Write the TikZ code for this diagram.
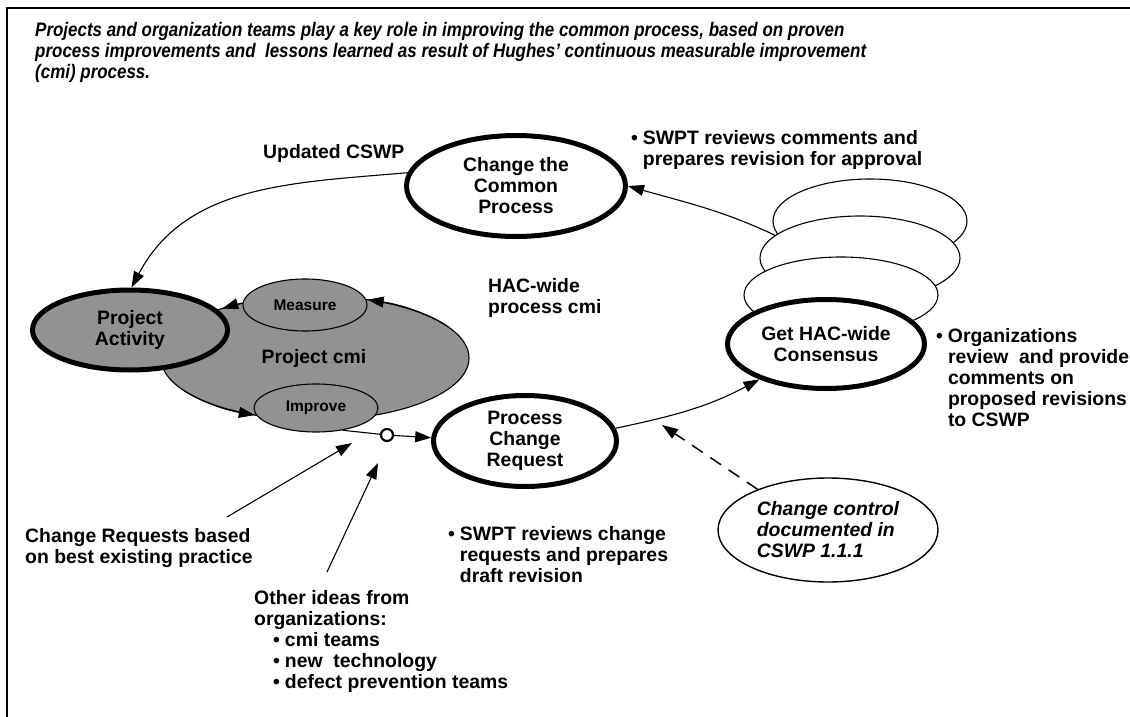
\documentclass[tikz,border=0pt]{standalone}
\usepackage{fontspec}
\setmainfont{Liberation Sans}
\newfontfamily\titlefont[FakeStretch=0.865]{Liberation Sans}
\usetikzlibrary{arrows.meta,shapes.geometric,calc}
\definecolor{fillgray}{RGB}{146,146,146}
\newcommand\bodyfont{\bfseries\fontsize{19.4}{21}\selectfont}
\newcommand\smallbody{\bfseries\fontsize{15.5}{18}\selectfont}
\tikzset{
  bigell/.style={ellipse, draw, line width=5pt, inner sep=0pt, align=center, font=\bodyfont},
  thinell/.style={ellipse, draw, line width=1.1pt, fill=white, inner sep=0pt},
  grayell/.style={ellipse, draw, line width=1.1pt, fill=fillgray, inner sep=0pt, font=\smallbody},
  conn/.style={line width=1.1pt, -{Triangle[length=16pt,width=11pt]}},
  txt/.style={inner sep=0pt, align=left, font=\bodyfont},
}
\begin{document}
\begin{tikzpicture}[x=1pt,y=-1pt]
\useasboundingbox (0,0) rectangle (1130,717);
% frame
\draw[line width=2pt] (7,717) -- (7,8) -- (1130,8);
% title
\node[inner sep=0pt, anchor=north west, align=left, font=\titlefont\bfseries\itshape\fontsize{19.6}{21}\selectfont] (title) at (35,22)
 {Projects and organization teams play a key role in improving the common process, based on proven\\
  process improvements and\ \ lessons learned as result of Hughes’ continuous measurable improvement\\
  (cmi) process.};

% project cmi loop
\node[ellipse, draw, line width=1.1pt, fill=fillgray, inner sep=0pt, minimum width=308pt, minimum height=124pt] (big) at (315,358) {};
\node[bigell, fill=fillgray, minimum width=195pt, minimum height=80pt] (pa) at (130,330) {Project\\Activity};
\draw[conn] ($(big.center)+({154*cos(-30)},{62*sin(-30)})$) arc[start angle=-30, end angle=-70, x radius=154, y radius=62];
\draw[conn] ($(big.center)+({154*cos(-112)},{62*sin(-112)})$) arc[start angle=-112, end angle=-127, x radius=154, y radius=62];
\draw[conn] ($(big.center)+({154*cos(150)},{62*sin(150)})$) arc[start angle=150, end angle=113, x radius=154, y radius=62];
\node[grayell, minimum width=124pt, minimum height=52pt] (meas) at (305,305) {Measure};
\node[grayell, minimum width=124pt, minimum height=48pt] (imp) at (316,408) {Improve};
\node[txt] (pcmi) at (314,358) {Project cmi};

% main process ellipses
\node[bigell, fill=white, minimum width=219pt, minimum height=101pt] (ccp) at (516,186) {Change the\\Common\\Process};
\node[thinell, minimum width=194pt, minimum height=84pt] (s1) at (870,221) {};
\node[thinell, minimum width=200pt, minimum height=84pt] (s2) at (860,258) {};
\node[thinell, minimum width=194pt, minimum height=76pt] (s3) at (841,295) {};
\node[bigell, fill=white, minimum width=197pt, minimum height=89pt] (gch) at (826,344) {Get HAC-wide\\Consensus};
\node[bigell, fill=white, minimum width=183pt, minimum height=91pt] (pcr) at (525,441) {Process\\Change\\Request};
\node[ellipse, draw, line width=1.4pt, inner sep=0pt, minimum width=220pt, minimum height=104pt, align=left,
      font=\bfseries\itshape\fontsize{19.4}{21}\selectfont] (cc) at (828,530) {Change control\\documented in\\CSWP 1.1.1};
\node[circle, draw, line width=2.2pt, fill=white, minimum size=12pt, inner sep=0pt] (cir) at (387,435) {};

% connectors
\draw[conn] (ccp.173) to[out=185,in=62] (pa.88);
\draw[conn] (s2.165) to[out=155,in=-16] (ccp.0);
\draw[conn] (pcr.8) to[out=12,in=208] (gch.208);
\draw[line width=1.1pt] (imp.-40) -- (cir);
\draw[conn] (cir) -- (pcr.178);
\coordinate (dtip) at (662,425);
\draw[line width=1.5pt, dash pattern=on 13pt off 9pt, -{Triangle[length=16pt,width=11pt]}] (cc.150) -- (dtip);
\coordinate (a1s) at (227,517);
\coordinate (a1e) at (352,443);
\coordinate (a2s) at (327,572);
\coordinate (a2e) at (378,463);
\draw[conn] (a1s) -- (a1e);
\draw[conn] (a2s) -- (a2e);

% labels
\node[txt, anchor=west] (upd) at (263,153) {Updated CSWP};
\node[txt, anchor=west] (hac) at (488,298) {HAC-wide\\process cmi};
\node[txt, anchor=west] (swpt1) at (631,151) {\begin{tabular}{@{}l@{\hspace{5pt}}l@{}}\textbullet & SWPT reviews comments and\\ & prepares revision for approval\end{tabular}};
\node[txt, anchor=west] (org) at (936,380) {\begin{tabular}{@{}l@{\hspace{5pt}}l@{}}\textbullet & Organizations\\ & review\ \ and provide\\ & comments on\\ & proposed revisions\\ & to CSWP\end{tabular}};
\node[txt, anchor=west] (swpt2) at (448,557) {\begin{tabular}{@{}l@{\hspace{5pt}}l@{}}\textbullet & SWPT reviews change\\ & requests and prepares\\ & draft revision\end{tabular}};
\node[txt, anchor=west] (crb) at (25,548) {Change Requests based\\on best existing practice};
\node[txt, anchor=west] (other) at (254,642) {\begin{tabular}{@{}l@{}l@{\hspace{5pt}}l@{}}\multicolumn{3}{@{}l@{}}{Other ideas from}\\\multicolumn{3}{@{}l@{}}{organizations:}\\ \hspace*{19pt} & \textbullet & cmi teams\\ & \textbullet & new\ \ technology\\ & \textbullet & defect prevention teams\end{tabular}};
\end{tikzpicture}
\end{document}
